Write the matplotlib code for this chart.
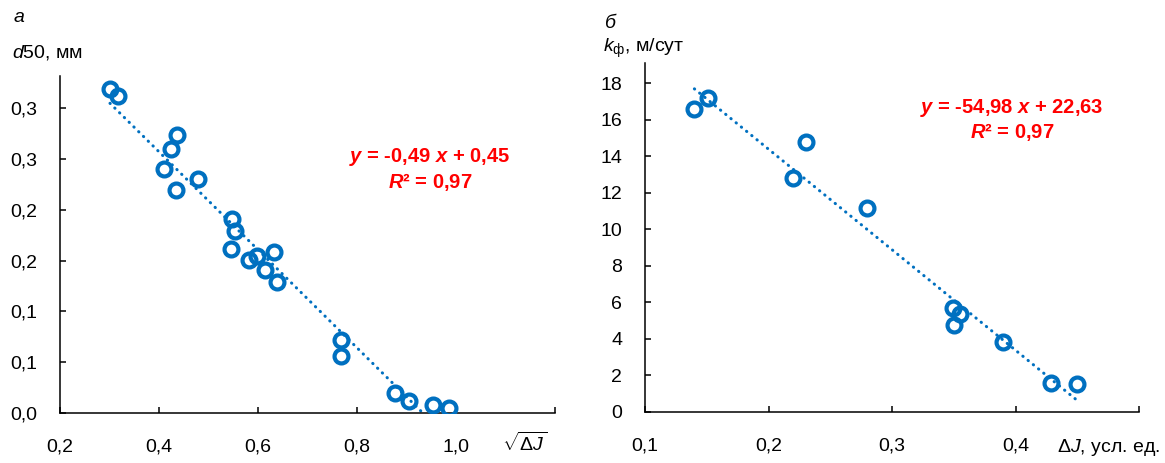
import numpy as np
import matplotlib
matplotlib.use('Agg')
import matplotlib.pyplot as plt

plt.rcParams['font.family'] = ['Liberation Sans', 'DejaVu Sans']
plt.rcParams['mathtext.fontset'] = 'custom'
plt.rcParams['mathtext.rm'] = 'Liberation Sans'
plt.rcParams['mathtext.it'] = 'Liberation Sans:italic'
plt.rcParams['mathtext.bf'] = 'Liberation Sans:bold'
plt.rcParams['mathtext.bfit'] = 'Liberation Sans:italic:bold'

# panel a: d50 vs sqrt(dJ)
sqrt_dj = [0.301, 0.317, 0.436, 0.424, 0.410, 0.434, 0.479, 0.548, 0.554, 0.545,
           0.582, 0.597, 0.632, 0.614, 0.638, 0.768, 0.768, 0.877, 0.905, 0.953, 0.986]
d50 = [0.319, 0.312, 0.274, 0.260, 0.240, 0.220, 0.230, 0.191, 0.179, 0.161,
       0.151, 0.155, 0.158, 0.141, 0.129, 0.072, 0.056, 0.019, 0.012, 0.008, 0.005]

# panel b: kf vs dJ
dj = [0.140, 0.151, 0.230, 0.220, 0.280, 0.349, 0.355, 0.350, 0.390, 0.429, 0.450]
kf = [16.60, 17.21, 14.80, 12.80, 11.15, 5.67, 5.34, 4.75, 3.80, 1.56, 1.52]

xt_a = [0.2, 0.4, 0.6, 0.8, 1.0, 1.2]
xl_a = ['0,2', '0,4', '0,6', '0,8', '1,0', '']
yt_a = [0.0, 0.05, 0.10, 0.15, 0.20, 0.25, 0.30]
xt_b = [0.1, 0.2, 0.3, 0.4, 0.5]
xl_b = ['0,1', '0,2', '0,3', '0,4', '']
yt_b = [0, 2, 4, 6, 8, 10, 12, 14, 16, 18]

blue = '#0070C0'
red = '#FF0000'
W, H = 1165, 463
fs = 14
fs_eq = 14.5

fig = plt.figure(figsize=(W / 100, H / 100), dpi=100)
ax1 = fig.add_axes([60 / W, 1 - 412.7 / H, 495 / W, 336.7 / H])
ax2 = fig.add_axes([645 / W, 1 - 411.7 / H, 494 / W, 348.7 / H])


def style(ax):
    for s in ('top', 'right'):
        ax.spines[s].set_visible(False)
    for s in ('left', 'bottom'):
        ax.spines[s].set_linewidth(1.1)
    ax.tick_params(direction='in', length=4.5, width=1.1, labelsize=fs)
    ax.tick_params(axis='y', pad=16.5)
    ax.tick_params(axis='x', pad=18.5)


def draw(ax, x, y):
    x = np.array(x)
    y = np.array(y)
    k, b = np.polyfit(x, y, 1)
    xx = np.linspace(x.min(), x.max(), 50)
    ax.plot(xx, k * xx + b, color=blue, lw=2.2, ls=(0, (0.1, 2.1)),
            dash_capstyle='round', zorder=2)
    ax.plot(x, y, 'o', mfc='none', mec=blue, ms=10, mew=3, zorder=3)


# panel a
draw(ax1, sqrt_dj, d50)
ax1.set_xlim(0.2, 1.2)
ax1.set_ylim(0, 0.332)
ax1.set_xticks(xt_a)
ax1.set_xticklabels(xl_a)
ax1.set_yticks(yt_a)
ax1.set_yticklabels([f'{v + 1e-9:.1f}'.replace('.', ',') for v in yt_a])
style(ax1)

# panel b
draw(ax2, dj, kf)
ax2.set_xlim(0.1, 0.5)
ax2.set_ylim(0, 19.1)
ax2.set_xticks(xt_b)
ax2.set_xticklabels(xl_b)
ax2.set_yticks(yt_b)
style(ax2)

# labels
fig.text(19 / W, 1 - 17 / H, 'а', fontsize=fs, style='italic', ha='center', va='center')
fig.text(12 / W, 1 - 52 / H, '$d$50, мм', fontsize=fs, ha='left', va='center')
fig.text(547 / W, 1 - 443 / H, r'$\sqrt{\Delta J}$', fontsize=fs, ha='right', va='center')

fig.text(610 / W, 1 - 23 / H, 'б', fontsize=fs, style='italic', ha='center', va='center')
fig.text(603 / W, 1 - 48 / H, r'$k_{\mathrm{ф}}$, м/сут', fontsize=fs, ha='left', va='center')
fig.text(1160 / W, 1 - 448 / H, 'Δ$J$, усл. ед.', fontsize=fs, ha='right', va='center')

# equations
fig.text(430 / W, 1 - 157 / H, r'$\mathbfit{y}$ = -0,49 $\mathbfit{x}$ + 0,45', fontsize=fs_eq,
         color=red, fontweight='bold', ha='center', va='center')
fig.text(430 / W, 1 - 182 / H, r'$\mathbfit{R}$² = 0,97', fontsize=fs_eq,
         color=red, fontweight='bold', ha='center', va='center')
fig.text(1012 / W, 1 - 108 / H, r'$\mathbfit{y}$ = -54,98 $\mathbfit{x}$ + 22,63', fontsize=fs_eq,
         color=red, fontweight='bold', ha='center', va='center')
fig.text(1012 / W, 1 - 132 / H, r'$\mathbfit{R}$² = 0,97', fontsize=fs_eq,
         color=red, fontweight='bold', ha='center', va='center')

fig.savefig('out.png', dpi=100)
